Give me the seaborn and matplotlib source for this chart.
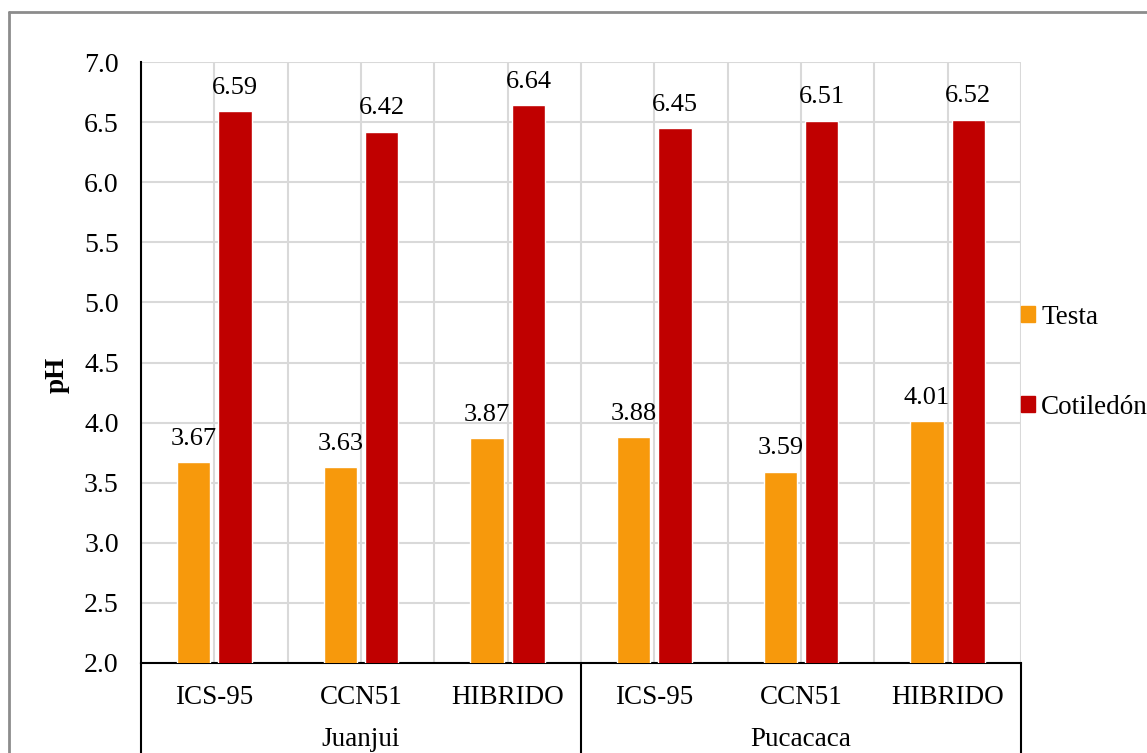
import matplotlib
matplotlib.use("Agg")
import matplotlib.pyplot as plt
from matplotlib.lines import Line2D
import seaborn as sns
import pandas as pd
import numpy as np

# pH of cocoa bean tissues by site and variety
sites = ["Juanjui", "Juanjui", "Juanjui", "Pucacaca", "Pucacaca", "Pucacaca"]
varieties = ["ICS-95", "CCN51", "HIBRIDO", "ICS-95", "CCN51", "HIBRIDO"]
testa = [3.67, 3.63, 3.87, 3.88, 3.59, 4.01]
cotiledon = [6.59, 6.42, 6.64, 6.45, 6.51, 6.52]
tissues = ["Testa", "Cotiledón"]
site_names = ["Juanjui", "Pucacaca"]

keys = [f"{s} {v}" for s, v in zip(sites, varieties)]
df = pd.DataFrame({
    "key": keys * 2,
    "tejido": [tissues[0]] * len(keys) + [tissues[1]] * len(keys),
    "pH": testa + cotiledon,
})

sns.set_theme(style="white")
plt.rcParams["font.family"] = ["Liberation Serif", "DejaVu Serif"]
plt.rcParams["text.color"] = "black"
plt.rcParams["axes.labelcolor"] = "black"
plt.rcParams["xtick.color"] = "black"
plt.rcParams["ytick.color"] = "black"
FS = 19.5

fig = plt.figure(figsize=(11.47, 7.53), dpi=100)
ax = fig.add_axes([141 / 1147, 1 - 663 / 753, 880 / 1147, 601 / 753])

palette = {"Testa": "#F7990C", "Cotiledón": "#C00000"}
sns.barplot(data=df, x="key", y="pH", hue="tejido", order=keys,
            hue_order=tissues, palette=palette, width=0.565, gap=0.2,
            saturation=1, errorbar=None, legend=False, ax=ax, zorder=3)

ax.set_ylim(2.0, 7.0)
ax.set_xlim(-0.5, len(keys) - 0.5)
yt = np.arange(2.0, 7.01, 0.5)
ax.set_yticks(yt)
ax.set_yticklabels([f"{t:.1f}" for t in yt], fontsize=20, color="black")
ax.set_xticks(range(len(keys)))
ax.set_xticks(np.arange(-0.5, len(keys), 1.0), minor=True)
ax.set_xticklabels(varieties, fontsize=FS, color="black")
ax.tick_params(axis="both", which="both", length=0)
ax.tick_params(axis="y", pad=16)
ax.tick_params(axis="x", pad=16)

grid_kw = dict(color="#D9D9D9", linewidth=1.5, zorder=0)
ax.grid(True, axis="y", **grid_kw)
ax.grid(True, axis="x", which="both", **grid_kw)
ax.set_axisbelow(True)

for side in ["top", "right"]:
    ax.spines[side].set_visible(False)
for side in ["left", "bottom"]:
    ax.spines[side].set_color("black")
    ax.spines[side].set_linewidth(1.5)

ax.set_xlabel("")
ax.set_ylabel("pH", fontsize=FS, fontweight="bold", color="black")
ax.yaxis.label.set_va("center")
ax.yaxis.set_label_coords(-0.095, 0.48)

# value labels above each bar
for cont in ax.containers:
    ax.bar_label(cont, labels=[f"{b.get_height():.2f}" for b in cont],
                 padding=9, fontsize=19, color="black")

# category frame beneath the plot area with site names
trans = ax.get_xaxis_transform()
depth = -0.16
for xb in [-0.5, 2.5, 5.5]:
    ax.add_line(Line2D([xb, xb], [0, depth], transform=trans, color="black",
                       linewidth=1.5, clip_on=False))
for i, name in enumerate(site_names):
    ax.text(1 + 3 * i, -0.127, name, transform=trans, ha="center",
            va="center", fontsize=FS, color="black")

# legend to the right of the plot area
handles = [plt.Rectangle((0, 0), 1, 1, color=palette[t]) for t in tissues]
leg = fig.legend(handles, tissues, loc="center left",
                 bbox_to_anchor=(1021 / 1147, 1 - 362 / 753), frameon=False,
                 fontsize=FS, handlelength=0.5, handleheight=0.5,
                 handletextpad=0.25, labelspacing=2.4, borderaxespad=0,
                 borderpad=0)
for t in leg.get_texts():
    t.set_color("black")

# chart frame
fig.add_artist(Line2D([9 / 1147, 9 / 1147], [0, 1 - 12 / 753],
                      transform=fig.transFigure, color="#8C8C8C", linewidth=2))
fig.add_artist(Line2D([9 / 1147, 1], [1 - 12 / 753, 1 - 12 / 753],
                      transform=fig.transFigure, color="#8C8C8C", linewidth=2))

fig.savefig("out.png", dpi=100)
